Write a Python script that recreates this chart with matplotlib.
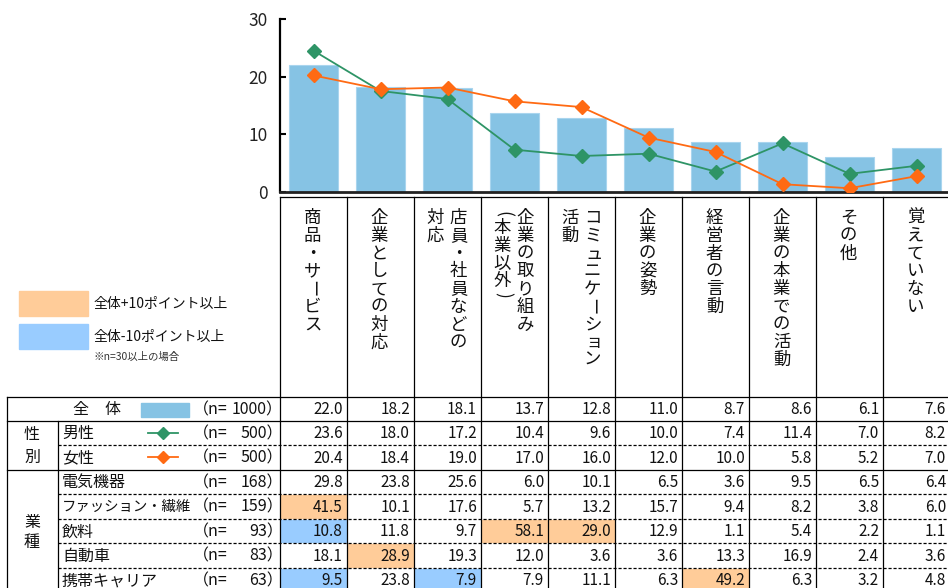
import numpy as np
import matplotlib
matplotlib.use("Agg")
import matplotlib.pyplot as plt
from matplotlib.patches import Rectangle

plt.rcParams['font.family'] = ['Noto Sans CJK JP', 'DejaVu Sans']

# 項目（縦書き。"\n" で列を分ける：先頭が右側の列）
categories = ["商品・サービス", "企業としての対応", "店員・社員などの\n対応",
              "企業の取り組み\n(本業以外)", "コミュニケーション\n活動", "企業の姿勢",
              "経営者の言動", "企業の本業での活動", "その他", "覚えていない"]

# グラフ：棒＝全体、折れ線＝男性／女性
total = [22.0, 18.2, 18.1, 13.7, 12.8, 11.0, 8.7, 8.6, 6.1, 7.6]
male_line = [24.5, 17.5, 16.1, 7.3, 6.2, 6.6, 3.5, 8.4, 3.1, 4.5]
female_line = [20.2, 17.8, 18.1, 15.7, 14.7, 9.4, 6.9, 1.3, 0.6, 2.7]

# 表
total_n = 1000
male_tbl = [23.6, 18.0, 17.2, 10.4, 9.6, 10.0, 7.4, 11.4, 7.0, 8.2]
female_tbl = [20.4, 18.4, 19.0, 17.0, 16.0, 12.0, 10.0, 5.8, 5.2, 7.0]
denki = [29.8, 23.8, 25.6, 6.0, 10.1, 6.5, 3.6, 9.5, 6.5, 6.4]
fashion = [41.5, 10.1, 17.6, 5.7, 13.2, 15.7, 9.4, 8.2, 3.8, 6.0]
inryo = [10.8, 11.8, 9.7, 58.1, 29.0, 12.9, 1.1, 5.4, 2.2, 1.1]
jidosha = [18.1, 28.9, 19.3, 12.0, 3.6, 3.6, 13.3, 16.9, 2.4, 3.6]
keitai = [9.5, 23.8, 7.9, 7.9, 11.1, 6.3, 49.2, 6.3, 3.2, 4.8]

row_labels = ["男性", "女性", "電気機器", "ファッション・繊維", "飲料", "自動車", "携帯キャリア"]
row_n = [500, 500, 168, 159, 93, 83, 63]
row_values = [male_tbl, female_tbl, denki, fashion, inryo, jidosha, keitai]

BAR = "#86C3E4"
GREEN = "#2E9466"
ORANGE = "#FF6A13"
HI_UP = "#FFCC99"
HI_DN = "#99CCFF"
TXT = "#111111"

W, H = 948, 588
fig = plt.figure(figsize=(W / 100, H / 100), dpi=100)

# ---- グラフ ----
X0, CW = 280, 67
ytop, ybot = 19, 191.7
ax = fig.add_axes([X0 / W, 1 - ybot / H, CW * 10 / W, (ybot - ytop) / H])
ax.set_facecolor("none")
x = np.arange(len(total))
ax.bar(x, total, width=0.72, color=BAR, edgecolor="#A9D5EE", linewidth=0.8, zorder=2)
ax.plot(x, male_line, color=GREEN, lw=1.3, marker="D", ms=7.5, zorder=3)
ax.plot(x, female_line, color=ORANGE, lw=1.3, marker="D", ms=7.5, zorder=3)
ax.set_xlim(-0.5, 9.5)
ax.set_ylim(0, 30)
ax.set_yticks([0, 10, 20, 30])
ax.set_xticks([])
ax.tick_params(axis="y", direction="in", length=4, width=1.5, pad=9, labelsize=12.5, labelcolor="#222222")
for s in ["top", "right"]:
    ax.spines[s].set_visible(False)
ax.spines["left"].set_linewidth(1.6)
ax.spines["bottom"].set_linewidth(2.0)
ax.spines["bottom"].set_color("#222222")

# ---- 表（ピクセル座標のオーバーレイ）----
ov = fig.add_axes([0, 0, 1, 1])
ov.set_xlim(0, W)
ov.set_ylim(H, 0)
ov.axis("off")
ov.patch.set_visible(False)

LW = 0.9
col_x = [X0 + CW * k for k in range(11)]
row_y = [396.5, 420.5, 445, 469.5, 494, 518.5, 543, 567.5, 592]
hdr_top = 197

# 罫線
ov.plot([X0, W + 5], [hdr_top, hdr_top], color="k", lw=LW)
for cx in col_x:
    ov.plot([cx, cx], [hdr_top, H + 5], color="k", lw=LW)
ov.plot([7, 7], [row_y[0], H + 5], color="k", lw=LW)
ov.plot([58, 58], [row_y[1], H + 5], color="k", lw=LW)
for k, yy in enumerate(row_y[:-1]):
    if k in (0, 1, 3):
        ov.plot([7, W + 5], [yy, yy], color="k", lw=LW)
    else:
        ov.plot([58, W + 5], [yy, yy], color="k", lw=LW, ls=(0, (2.5, 1.5)))


def vtext(xc, top, s, pitch=17.7, size=12.5):
    cur = top
    for ch in s:
        adv = pitch * (0.55 if ch in "()" else 1.0)
        rot, dx = 0, 0
        if ch in "ー()":
            rot = -90
        if ch in "ッュョャ":
            dx = 2
        ov.text(xc + dx, cur + adv / 2, ch, ha="center", va="center",
                rotation=rot, fontsize=size, color=TXT)
        cur += adv


for j, cat in enumerate(categories):
    cols = cat.split("\n")
    cx = X0 + CW * (j + 0.5)
    if len(cols) == 1:
        vtext(cx - 1, 209.5, cols[0])
    else:
        vtext(cx + 11, 209.5, cols[0])
        vtext(cx - 12, 209.5, cols[1])


def n_text(yc, n):
    ov.text(193, yc, "（n=", ha="left", va="center", fontsize=11.5, color=TXT)
    ov.text(283, yc, f"{n}）", ha="right", va="center", fontsize=11.5, color=TXT)


# 全体行
yc = (row_y[0] + row_y[1]) / 2 + 1
ov.text(73, yc, "全　体", ha="left", va="center", fontsize=11.5, color=TXT)
ov.add_patch(Rectangle((141, yc - 7), 48, 14, color=BAR))
n_text(yc, total_n)
for j, v in enumerate(total):
    ov.text(col_x[j + 1] - 4, yc, f"{v:.1f}", ha="right", va="center", fontsize=11, color=TXT)

# 各属性の行
for i, (lab, n, vals) in enumerate(zip(row_labels, row_n, row_values)):
    y0, y1 = row_y[i + 1], row_y[i + 2]
    yc = (y0 + y1) / 2 + 1
    ov.text(62, yc, lab, ha="left", va="center", fontsize=11.5 if len(lab) < 8 else 10.4, color=TXT)
    n_text(yc, n)
    for j, v in enumerate(vals):
        d = v - total[j]
        if n >= 30 and d >= 10:
            ov.add_patch(Rectangle((col_x[j] + 1, y0 + 1), CW - 2, y1 - y0 - 2, color=HI_UP, zorder=0))
        elif n >= 30 and d <= -10:
            ov.add_patch(Rectangle((col_x[j] + 1, y0 + 1), CW - 2, y1 - y0 - 2, color=HI_DN, zorder=0))
        ov.text(col_x[j + 1] - 4, yc, f"{v:.1f}", ha="right", va="center", fontsize=11, color=TXT)

# 男性・女性の凡例（線）
for i, c in [(0, GREEN), (1, ORANGE)]:
    yc = (row_y[i + 1] + row_y[i + 2]) / 2
    ov.plot([148, 178], [yc, yc], color=c, lw=1.3)
    ov.plot([163], [yc], marker="D", ms=6.5, color=c)

# グループ名
ov.text(32, 435, "性", ha="center", va="center", fontsize=11.5, color=TXT)
ov.text(32, 457, "別", ha="center", va="center", fontsize=11.5, color=TXT)
ov.text(32, 522, "業", ha="center", va="center", fontsize=11.5, color=TXT)
ov.text(32, 543, "種", ha="center", va="center", fontsize=11.5, color=TXT)

# 色分けの凡例
ov.add_patch(Rectangle((19, 291), 69, 25, color=HI_UP))
ov.add_patch(Rectangle((19, 324), 69, 25, color=HI_DN))
ov.text(94, 304, "全体+10ポイント以上", ha="left", va="center", fontsize=10, color=TXT)
ov.text(94, 337, "全体-10ポイント以上", ha="left", va="center", fontsize=10, color=TXT)
ov.text(94, 357, "※n=30以上の場合", ha="left", va="center", fontsize=7.5, color="#333333")

fig.savefig("out.png", dpi=100)
